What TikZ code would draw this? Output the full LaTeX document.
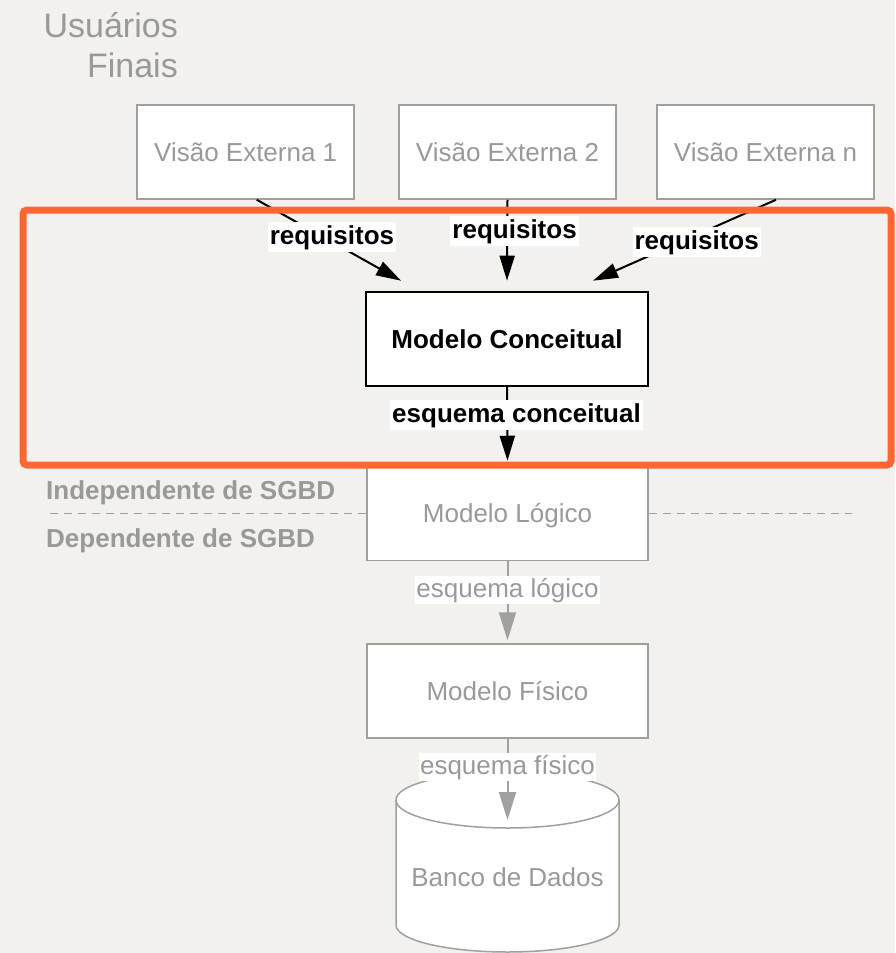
\documentclass[tikz,border=0pt]{standalone}
\usepackage{fontspec}
\setmainfont{Liberation Sans}
\usetikzlibrary{arrows.meta,calc}
\definecolor{bg}{RGB}{243,241,238}
\definecolor{gtext}{RGB}{153,153,153}
\definecolor{gline}{RGB}{160,160,160}
\definecolor{frameorange}{RGB}{255,102,51}
\tikzset{
 gbox/.style={draw=gline, line width=1.5pt, fill=white, minimum width=217pt, minimum height=94pt, inner sep=0pt, text=gtext, font=\fontsize{26}{31}\selectfont, text height=18.6pt, text depth=0pt},
 mbox/.style={gbox, minimum width=281pt},
 cbox/.style={draw=black, line width=2pt, fill=white, minimum width=282pt, minimum height=94pt, inner sep=0pt, font=\bfseries\fontsize{26}{31}\selectfont, text height=18.6pt, text depth=0pt},
 blab/.style={fill=white, inner xsep=2pt, inner ysep=0.5pt, font=\bfseries\fontsize{26}{31}\selectfont, text height=22pt, text depth=7pt},
 glab/.style={fill=white, text=gtext, inner xsep=1pt, inner ysep=0.5pt, font=\fontsize{26}{31}\selectfont, text height=21pt, text depth=6pt},
 side/.style={text=gtext, inner sep=0pt, anchor=base west, font=\bfseries\fontsize{26}{31}\selectfont},
 barrow/.style={draw=black, line width=2pt, -{Triangle[length=25pt,width=15pt]}},
 garrow/.style={draw=gline, line width=2pt, -{Triangle[length=28pt,width=17pt]}},
 sepline/.style={draw=gline, line width=1.5pt, dash pattern=on 8pt off 6pt},
 cyl/.style={draw=gline, line width=1.5pt},
}
\begin{document}
\begin{tikzpicture}[x=1pt,y=1pt]
\useasboundingbox (0,0) rectangle (895,-953);
\fill[bg] (0,0) rectangle (895,-953);

% end users
\node[anchor=base east, align=right, text=gtext, inner sep=0pt, font=\fontsize{34}{40}\selectfont] (users) at (178,-77) {Usuários\\Finais};

% external views
\node[gbox] (v1) at (245.7,-152) {Visão Externa 1};
\node[gbox] (v2) at (507.5,-152) {Visão Externa 2};
\node[gbox] (v3) at (765.5,-152) {Visão Externa n};

% models
\node[cbox] (mc) at (507,-338.7) {Modelo Conceitual};
\node[mbox] (ml) at (507.5,-513.5) {Modelo Lógico};
\node[mbox] (mf) at (507.5,-691) {Modelo Físico};

% database cylinder
\fill[white] (396,-800) -- (396,-925) arc[start angle=180,end angle=360,x radius=111.5pt,y radius=27pt] -- (619,-800) arc[start angle=0,end angle=180,x radius=111.5pt,y radius=28pt] -- cycle;
\draw[cyl] (396,-800) -- (396,-925) arc[start angle=180,end angle=360,x radius=111.5pt,y radius=27pt] -- (619,-800);
\draw[cyl] (507.5,-800) ellipse[x radius=111.5pt, y radius=28pt];
\node[text=gtext, inner sep=0pt, font=\fontsize{26}{31}\selectfont, text height=18.6pt, text depth=0pt] (db) at (507.5,-877.5) {Banco de Dados};
\coordinate (dbtop) at (507.5,-820);

% separators
\coordinate (sepL) at (50,-513.5);
\coordinate (sepR) at (852,-513.5);
\draw[sepline] (sepL) -- (ml.west);
\draw[sepline] (ml.east) -- (sepR);
\node[side] (indep) at (46,-499) {Independente de SGBD};
\node[side] (dep) at (46,-547) {Dependente de SGBD};

% arrows
\draw[barrow] ([xshift=11pt]v1.south) -- ([xshift=-106pt,yshift=10pt]mc.north);
\draw[barrow] (v2.south) -- ([yshift=10pt]mc.north);
\draw[barrow] ([xshift=10.5pt]v3.south) -- ([xshift=86pt,yshift=10pt]mc.north);
\draw[barrow, shorten >=5pt] (mc.south) -- (ml.north);
\draw[garrow, shorten >=3pt] (ml.south) -- (mf.north);
\draw[garrow] (mf.south) -- (dbtop);

% labels
\node[blab] (r1) at (332,-236.7) {requisitos};
\node[blab] (r2) at (514.6,-231) {requisitos};
\node[blab] (r3) at (696.7,-241.7) {requisitos};
\node[blab] (ec) at (516.5,-415) {esquema conceitual};
\node[glab] (el) at (507.5,-590) {esquema lógico};
\node[glab] (ef) at (507.5,-767) {esquema físico};

% orange frame
\draw[frameorange, line width=7pt, rounded corners=4pt] (23,-210) rectangle (891,-465);
\end{tikzpicture}
\end{document}
